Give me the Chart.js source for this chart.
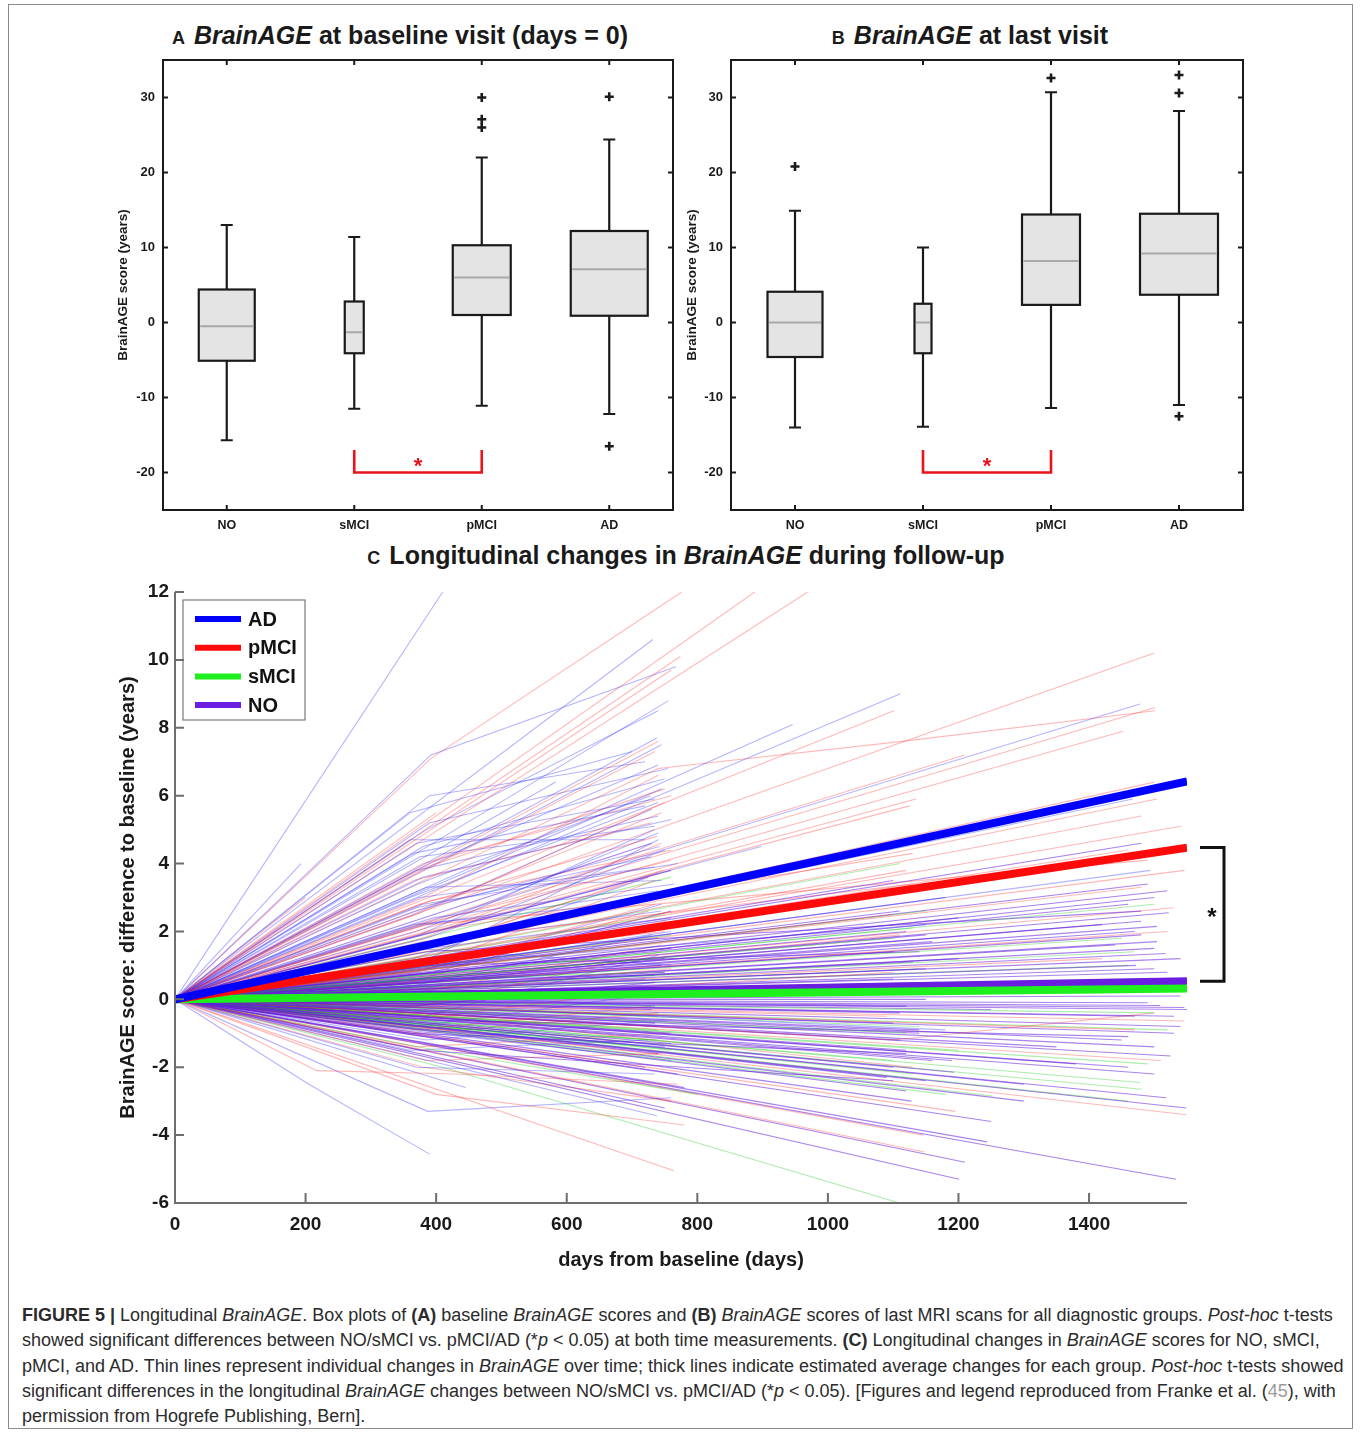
<!DOCTYPE html>
<html>
  <head>
    <title>BrainAGE figure</title>
    <script src="https://cdn.jsdelivr.net/npm/chart.js"></script>
    <style>
      body {
        margin: 0;
        width: 1360px;
        height: 1432px;
        position: relative;
        background: #fff;
        font-family: 'Liberation Sans', Arial, sans-serif;
        overflow: hidden;
      }
      .frame {
        position: absolute;
        left: 8px;
        top: 4px;
        width: 1343px;
        height: 1423px;
        border: 1px solid #8c8c8c;
      }
      canvas {
        position: absolute;
      }
      .ptitle {
        position: absolute;
        text-align: center;
        font-weight: bold;
        color: #1a1a1a;
        white-space: nowrap;
        font-size: 25px;
      }
      .ptitle .tag {
        font-size: 18px;
        margin-right: 9px;
      }
      .caption {
        position: absolute;
        left: 22px;
        top: 1303px;
        font-size: 18px;
        line-height: 25.3px;
        color: #2b2b2b;
        white-space: nowrap;
      }
    </style>
  </head>
  <body>
    <div class="frame"></div>

    <div class="ptitle" style="left:140px; top:21px; width:520px;">
      <span class="tag">A</span><i>BrainAGE</i> at baseline visit (days = 0)
    </div>
    <div class="ptitle" style="left:690px; top:21px; width:560px;">
      <span class="tag">B</span><i>BrainAGE</i> at last visit
    </div>
    <div class="ptitle" style="left:286px; top:541px; width:800px;">
      <span class="tag">C</span>Longitudinal changes in <i>BrainAGE</i> during follow-up
    </div>

    <canvas id="chartA" width="577" height="545" style="left:113px; top:0px;"></canvas>
    <canvas id="chartB" width="578" height="545" style="left:682px; top:0px;"></canvas>
    <canvas id="chartC" width="1130" height="702" style="left:113px; top:570px;"></canvas>

    <div class="caption">
      <b>FIGURE 5 |</b> Longitudinal <i>BrainAGE</i>. Box plots of <b>(A)</b> baseline <i>BrainAGE</i> scores and <b>(B)</b> <i>BrainAGE</i> scores of last MRI scans for all diagnostic groups. <i>Post-hoc</i> t-tests<br>
      showed significant differences between NO/sMCI vs. pMCI/AD (*<i>p</i> &lt; 0.05) at both time measurements. <b>(C)</b> Longitudinal changes in <i>BrainAGE</i> scores for NO, sMCI,<br>
      pMCI, and AD. Thin lines represent individual changes in <i>BrainAGE</i> over time; thick lines indicate estimated average changes for each group. <i>Post-hoc</i> t-tests showed<br>
      significant differences in the longitudinal <i>BrainAGE</i> changes between NO/sMCI vs. pMCI/AD (*<i>p</i> &lt; 0.05). [Figures and legend reproduced from Franke et al. (<span style="color:#9a9a9a">45</span>), with<br>
      permission from Hogrefe Publishing, Bern].
    </div>

    <script>
      // ---- box plots (A, B) ----
      const groups = ['NO', 'sMCI', 'pMCI', 'AD'];
      const boxTicks = [-20, -10, 0, 10, 20, 30];

      const baseLow = [-15.7, -11.5, -11.1, -12.2];
      const baseQ1 = [-5.1, -4.1, 1.0, 0.9];
      const baseMed = [-0.5, -1.3, 6.0, 7.1];
      const baseQ3 = [4.4, 2.8, 10.3, 12.2];
      const baseHigh = [13.0, 11.4, 22.0, 24.4];
      const baseOutliers = [[], [], [30.0, 27.1, 26.0], [30.1, -16.5]];

      const lastLow = [-14.0, -13.9, -11.4, -11.0];
      const lastQ1 = [-4.6, -4.1, 2.35, 3.7];
      const lastMed = [0.0, 0.0, 8.2, 9.2];
      const lastQ3 = [4.1, 2.5, 14.4, 14.5];
      const lastHigh = [14.9, 10.0, 30.7, 28.2];
      const lastOutliers = [[20.8], [], [32.6], [33.0, 30.6, -12.5]];

      // significance bracket between sMCI and pMCI
      const bracketGroups = ['sMCI', 'pMCI'];
      const bracketTop = -17;
      const bracketBottom = -20;

      // ---- longitudinal (C) ----
      const dayTicks = [0, 200, 400, 600, 800, 1000, 1200, 1400];
      const changeTicks = [-6, -4, -2, 0, 2, 4, 6, 8, 10, 12];
      const meanDays = [0, 1550];
      const adMean = [0, 6.42];
      const pmciMean = [0, 4.47];
      const smciMean = [0, 0.32];
      const noMean = [0, 0.53];

      // individual trajectories: [day, change, day, change, ...], baseline (0, 0) implied
      const adTraj = [
        [410, 12.0], [392, 7.2, 767, 9.8], [732, 10.6], [756, 8.8], [738, 7.7],
        [583, 6.4], [1111, 9.0], [946, 8.1], [1478, 8.7], [1467, 5.9], [1494, 3.8],
        [390, 4.0, 740, 6.9], [380, 3.2, 745, 6.2], [370, 4.6, 735, 5.9], [365, 2.5, 730, 5.6],
        [380, 3.6, 760, 5.3], [370, 2.0, 740, 4.9], [360, 4.7, 720, 4.7], [385, 1.8, 750, 4.4],
        [375, 3.0, 735, 3.9], [365, 1.2, 725, 3.6], [380, 2.2, 740, 3.2], [370, 0.8, 745, 2.8],
        [390, 1.5, 760, 2.4], [365, 0.4, 730, 1.9], [380, -0.5, 740, 1.3], [375, 0.6, 735, 0.7],
        [370, -0.8, 745, 0.2], [385, -1.2, 750, -0.6], [360, -1.5, 725, -1.2],
        [205, -2.5, 390, -4.56], [445, -2.6], [738, -3.43], [387, -3.3, 760, -2.9],
        [370, -2.0, 735, -2.2], [395, -1.0, 760, -1.8], [360, 5.5, 700, 7.3], [380, 3.8, 745, 7.5],
        [193, 4.0], [385, 5.0, 740, 8.5], [390, 6.0, 720, 7.0], [380, 2.8, 770, 4.0],
        [366, 1.5, 760, 1.0], [375, 4.2, 735, 5.1], [368, 2.6, 742, 4.5], [372, 3.4, 728, 6.0],
        [898, 4.5], [380, 1.0, 1150, 2.2], [390, -0.2, 1180, -0.9],
        [360, 3.0, 740, 5.8], [380, 4.5, 750, 6.5], [370, 2.7, 730, 4.2], [385, 3.3, 745, 3.5],
        [375, 1.9, 735, 5.0], [390, 5.2, 755, 6.8], [365, 2.2, 725, 2.9], [380, 0.9, 760, 2.0],
        [370, 1.6, 745, 2.6], [380, -0.9, 750, -1.4], [390, 0.1, 735, -0.2], [370, 3.8, 740, 5.4],
        [365, 4.3, 720, 5.7], [395, 2.4, 765, 3.4], [380, 1.1, 740, 4.7]
      ];
      const pmciTraj = [
        [392, 7.1, 776, 12.0], [888, 12.0], [969, 12.0], [1500, 10.2], [1501, 8.6], [1452, 7.9],
        [1101, 8.5], [740, 6.8, 1114, 7.6, 1501, 8.5], [1209, 7.2], [1135, 5.9], [1125, 5.7],
        [1504, 5.9], [1480, 5.4], [1541, 5.1], [1546, 3.8], [774, 10.1], [760, 9.7], [740, 7.6],
        [735, 7.3], [380, 3.0, 740, 6.6], [370, 2.5, 750, 5.8], [365, 3.5, 730, 5.2],
        [380, 1.8, 745, 4.6], [375, 2.2, 760, 4.1], [385, 1.0, 735, 3.5], [370, 1.6, 740, 3.0],
        [360, 0.5, 725, 2.6], [380, 1.2, 750, 2.0], [375, -0.2, 745, 1.4], [390, 0.3, 760, 0.9],
        [365, -0.6, 730, 0.3], [380, -1.0, 740, -0.4], [370, -1.4, 755, -1.0], [385, -1.8, 745, -1.6],
        [217, -2.1, 430, -2.2, 770, -2.5], [764, -5.05], [400, -2.8, 780, -3.7], [1148, -4.5],
        [1146, -4.0], [1195, -3.3], [1549, -3.4], [1546, -0.64], [1100, 2.5], [1480, 3.3],
        [1150, 1.5, 1520, 2.0], [1100, -1.2, 1500, -0.4], [390, 2.0, 1130, 4.3], [380, 4.0, 760, 6.0],
        [400, 5.5], [200, 3.0], [380, 0.0, 1100, 0.8], [390, -0.5, 1130, -2.0],
        [375, 2.8, 738, 4.8], [372, 1.4, 748, 3.8], [383, 0.9, 752, 2.3], [1420, 1.2], [1470, -0.9],
        [370, 2.6, 745, 5.5], [385, 3.9, 750, 6.2], [380, 1.5, 740, 3.7], [365, 0.8, 735, 2.8],
        [390, 2.9, 760, 4.4], [375, 0.2, 745, 1.6], [370, -0.9, 730, -0.2], [380, 1.7, 1130, 3.4],
        [390, 0.6, 1110, 1.9], [385, 2.2, 1490, 4.1], [1500, 6.4], [1460, 4.4], [1530, 2.7],
        [1120, 3.8], [1090, -0.5], [380, -2.0, 760, -3.0], [1510, -1.8]
      ];
      const smciTraj = [
        [410, -2.0, 1110, -6.0], [1478, -2.45], [1481, -2.65], [1252, -2.85], [1100, -1.8],
        [1140, -0.8], [1200, 0.5], [1450, 1.8], [1500, 2.8], [1110, 4.0], [750, 2.5], [730, 1.2],
        [740, -0.5], [760, -1.5], [370, -0.8, 740, -1.2], [380, 0.6, 750, 0.8], [1130, -2.2],
        [1200, -1.5], [1520, -0.9], [1480, 0.2], [1100, 1.8], [760, 3.6], [1490, -1.9],
        [400, -1.5, 800, -2.8], [1150, 2.6], [1120, 0.3], [760, 0.1], [1460, 1.0],
        [1490, 0.6], [1500, -0.4], [1120, -1.0], [1140, 0.9], [760, 1.9], [740, -0.9],
        [1470, 1.4], [1180, -2.8], [1460, -3.0], [1130, 2.1]
      ];
      const noTraj = [
        [1522, 2.55], [1504, 2.15], [1504, 1.7], [1517, 1.35], [1472, 1.0], [1546, -0.24],
        [1509, -0.18], [1525, -1.67], [1518, -2.9], [1549, -3.2], [1533, -5.3], [1201, -5.3],
        [1244, -4.2], [1128, -3.0], [1193, -2.15], [1480, 4.6], [1500, 3.0], [1490, 3.4],
        [1460, 2.8], [1480, 1.9], [1520, 0.8], [1500, 0.4], [1470, -0.5], [1540, -0.8],
        [1450, -1.2], [1500, -1.4], [1120, 2.0], [1100, 1.4], [1150, 0.9], [1130, 0.2],
        [1110, -0.4], [1140, -0.9], [1120, -1.5], [1100, -2.0], [1150, -2.4], [1120, -2.7],
        [1180, 3.0], [1100, 3.5], [1200, 2.4], [760, 1.5], [740, 2.2], [750, 0.8], [730, -0.3],
        [760, -1.0], [740, -1.6], [720, -2.0], [780, -2.6], [740, 3.0], [760, 3.8], [730, 4.6],
        [750, -3.2], [760, 0.3], [1540, 0.1], [1200, 1.2], [1250, -0.3], [1480, 2.3],
        [1380, -1.9], [1300, -2.5], [1160, 1.7], [1110, -1.2], [1500, 1.5], [1530, -1.0],
        [745, 1.0], [735, -0.7], [1170, 0.5], [1190, -1.8],
        [1540, 1.2], [1510, 0.6], [1490, -0.1], [1530, -0.5], [1460, -2.0], [1500, -2.2],
        [1470, 2.0], [1520, 3.2], [1440, 1.6], [1550, -0.3], [1150, 0.0], [1130, 1.1],
        [1100, 0.6], [1120, -0.2], [1140, -1.0], [1160, -1.8], [1090, -2.3], [1110, 2.6],
        [1150, 1.9], [1100, -0.7], [380, 0.5, 750, 1.2], [370, -0.4, 740, -0.8],
        [390, 1.0, 1140, 1.4], [360, -1.0, 1120, -1.6], [380, 0.2, 1500, 0.9], [370, -0.6, 1460, -1.1],
        [385, 1.4, 1480, 2.6], [375, -1.5, 1100, -2.4], [395, 0.8, 760, 2.6], [365, -0.2, 735, 0.5],
        [740, 1.8], [760, -1.3], [720, 0.6], [770, -2.2], [1250, -3.6], [1210, -4.8],
        [1300, -3.0], [1350, -1.4], [1400, 0.4], [1420, 2.2]
      ];

      const legendNames = ['AD', 'pMCI', 'sMCI', 'NO'];
      const groupColors = { AD: '#0000ff', pMCI: '#ff0a0a', sMCI: '#1ef01e', NO: '#6a1ee0' };
      const thinColors = {
        AD: 'rgba(40, 40, 255, 0.35)',
        pMCI: 'rgba(255, 40, 40, 0.33)',
        sMCI: 'rgba(20, 200, 20, 0.35)',
        NO: 'rgba(100, 30, 220, 0.55)',
      };

      const FONT = "'Liberation Sans', Arial, sans-serif";

      // ---------- box plot charts ----------
      const boxPlugin = {
        id: 'boxes',
        beforeDatasetsDraw(chart, args, opts) {
          const { ctx } = chart;
          const x = chart.scales.x;
          const y = chart.scales.y;
          ctx.save();
          ctx.lineWidth = 2.2;
          ctx.strokeStyle = '#1a1a1a';
          opts.low.forEach((lo, i) => {
            const cx = x.getPixelForValue(i);
            const hw = opts.widths[i] / 2;
            const yq1 = y.getPixelForValue(opts.q1[i]);
            const yq3 = y.getPixelForValue(opts.q3[i]);
            const yhi = y.getPixelForValue(opts.high[i]);
            const ylo = y.getPixelForValue(lo);
            // whiskers
            ctx.beginPath();
            ctx.moveTo(cx, yhi);
            ctx.lineTo(cx, yq3);
            ctx.moveTo(cx, yq1);
            ctx.lineTo(cx, ylo);
            ctx.moveTo(cx - 6, yhi);
            ctx.lineTo(cx + 6, yhi);
            ctx.moveTo(cx - 6, ylo);
            ctx.lineTo(cx + 6, ylo);
            ctx.stroke();
            // box
            ctx.fillStyle = '#e4e4e4';
            ctx.fillRect(cx - hw, yq3, hw * 2, yq1 - yq3);
            ctx.strokeRect(cx - hw, yq3, hw * 2, yq1 - yq3);
            // median
            ctx.save();
            ctx.strokeStyle = '#a8a8a8';
            ctx.lineWidth = 2;
            const ym = y.getPixelForValue(opts.med[i]);
            ctx.beginPath();
            ctx.moveTo(cx - hw + 1.5, ym);
            ctx.lineTo(cx + hw - 1.5, ym);
            ctx.stroke();
            ctx.restore();
          });
          // red significance bracket
          const xa = x.getPixelForValue(groups.indexOf(bracketGroups[0]));
          const xb = x.getPixelForValue(groups.indexOf(bracketGroups[1]));
          const yt = y.getPixelForValue(bracketTop);
          const yb = y.getPixelForValue(bracketBottom);
          ctx.strokeStyle = '#e8141c';
          ctx.lineWidth = 2.6;
          ctx.beginPath();
          ctx.moveTo(xa, yt);
          ctx.lineTo(xa, yb);
          ctx.lineTo(xb, yb);
          ctx.lineTo(xb, yt);
          ctx.stroke();
          ctx.fillStyle = '#e8141c';
          ctx.font = 'bold 22px ' + FONT;
          ctx.textAlign = 'center';
          ctx.textBaseline = 'middle';
          ctx.fillText('*', (xa + xb) / 2, y.getPixelForValue((bracketTop + bracketBottom) / 2) + 6);
          ctx.restore();
        },
        afterDraw(chart) {
          const { ctx, chartArea: a } = chart;
          const x = chart.scales.x;
          const y = chart.scales.y;
          ctx.save();
          ctx.strokeStyle = '#1a1a1a';
          ctx.lineWidth = 2;
          ctx.strokeRect(a.left, a.top, a.right - a.left, a.bottom - a.top);
          ctx.beginPath();
          boxTicks.forEach((v) => {
            const py = y.getPixelForValue(v);
            ctx.moveTo(a.left, py);
            ctx.lineTo(a.left + 5, py);
            ctx.moveTo(a.right, py);
            ctx.lineTo(a.right - 5, py);
          });
          groups.forEach((g, i) => {
            const px = x.getPixelForValue(i);
            ctx.moveTo(px, a.bottom);
            ctx.lineTo(px, a.bottom - 5);
            ctx.moveTo(px, a.top);
            ctx.lineTo(px, a.top + 5);
          });
          ctx.stroke();
          ctx.restore();
        },
      };

      function outlierPoints(list) {
        const pts = [];
        list.forEach((vals, i) => vals.forEach((v) => pts.push({ x: groups[i], y: v })));
        return pts;
      }

      function makeBoxChart(id, stats, widths, yWidth) {
        return new Chart(document.getElementById(id), {
          type: 'scatter',
          data: {
            labels: groups,
            datasets: [
              {
                data: outlierPoints(stats.outliers),
                pointStyle: 'cross',
                radius: 4.5,
                borderWidth: 2.6,
                borderColor: '#1a1a1a',
              },
            ],
          },
          plugins: [boxPlugin],
          options: {
            responsive: false,
            animation: false,
            layout: { padding: { top: 60, right: 17, bottom: 0, left: 0 } },
            plugins: {
              legend: { display: false },
              tooltip: { enabled: false },
              boxes: { low: stats.low, q1: stats.q1, med: stats.med, q3: stats.q3, high: stats.high, widths: widths },
            },
            scales: {
              x: {
                type: 'category',
                labels: groups,
                offset: true,
                grid: { display: false, drawTicks: false },
                border: { display: false },
                ticks: { color: '#1a1a1a', padding: 8, font: { family: FONT, size: 12.5, weight: 'bold' } },
                afterFit: (s) => { s.height = 35; },
              },
              y: {
                min: -25,
                max: 35,
                grid: { display: false, drawTicks: false },
                border: { display: false },
                afterBuildTicks: (s) => { s.ticks = boxTicks.map((v) => ({ value: v })); },
                ticks: { color: '#1a1a1a', padding: 8, font: { family: FONT, size: 13, weight: 'bold' } },
                title: {
                  display: true,
                  text: 'BrainAGE score (years)',
                  color: '#1a1a1a',
                  padding: { top: 2, bottom: 0 },
                  font: { family: FONT, size: 13.5, weight: 'bold' },
                },
                afterFit: (s) => { s.width = yWidth; },
              },
            },
          },
        });
      }

      makeBoxChart('chartA',
        { low: baseLow, q1: baseQ1, med: baseMed, q3: baseQ3, high: baseHigh, outliers: baseOutliers },
        [56, 19, 58, 77], 50);
      makeBoxChart('chartB',
        { low: lastLow, q1: lastQ1, med: lastMed, q3: lastQ3, high: lastHigh, outliers: lastOutliers },
        [55, 17, 58, 78], 49);

      // ---------- longitudinal chart ----------
      function toPoints(flat) {
        const pts = [{ x: 0, y: 0 }];
        for (let i = 0; i < flat.length; i += 2) pts.push({ x: flat[i], y: flat[i + 1] });
        return pts;
      }

      const thinSets = [];
      const groupTraj = [['NO', noTraj], ['sMCI', smciTraj], ['pMCI', pmciTraj], ['AD', adTraj]];
      groupTraj.forEach(([g, list]) => {
        list.forEach((t) => {
          thinSets.push({
            data: toPoints(t),
            borderColor: thinColors[g],
            borderWidth: 1.1,
            pointRadius: 0,
            order: 10,
          });
        });
      });
      // interleave so colours mix like the original
      thinSets.sort((a, b) => a.data[a.data.length - 1].x % 7 - b.data[b.data.length - 1].x % 7);

      function meanSet(g, vals, order) {
        return {
          data: meanDays.map((d, i) => ({ x: d, y: vals[i] })),
          borderColor: groupColors[g],
          borderWidth: 8,
          pointRadius: 0,
          order: order,
        };
      }

      const legendPlugin = {
        id: 'boxLegend',
        afterDatasetsDraw(chart) {
          const { ctx, chartArea: a } = chart;
          const left = a.left + 8;
          const top = a.top + 8;
          ctx.save();
          ctx.fillStyle = '#fff';
          ctx.fillRect(left, top, 122, 120);
          ctx.strokeStyle = '#7a7a7a';
          ctx.lineWidth = 1.2;
          ctx.strokeRect(left, top, 122, 120);
          ctx.font = 'bold 20px ' + FONT;
          ctx.textBaseline = 'middle';
          legendNames.forEach((n, i) => {
            const yy = top + 19 + i * 28.7;
            ctx.strokeStyle = groupColors[n];
            ctx.lineWidth = 6;
            ctx.beginPath();
            ctx.moveTo(left + 12, yy);
            ctx.lineTo(left + 58, yy);
            ctx.stroke();
            ctx.fillStyle = '#111';
            ctx.fillText(n, left + 65, yy + 1);
          });
          ctx.restore();
        },
        afterDraw(chart) {
          const { ctx, chartArea: a } = chart;
          const x = chart.scales.x;
          const y = chart.scales.y;
          ctx.save();
          // axes
          ctx.strokeStyle = '#6e6e6e';
          ctx.lineWidth = 2;
          ctx.beginPath();
          ctx.moveTo(a.left, a.top);
          ctx.lineTo(a.left, a.bottom);
          ctx.lineTo(a.right, a.bottom);
          changeTicks.forEach((v) => {
            const py = y.getPixelForValue(v);
            ctx.moveTo(a.left, py);
            ctx.lineTo(a.left + 9, py);
          });
          dayTicks.forEach((v) => {
            const px = x.getPixelForValue(v);
            ctx.moveTo(px, a.bottom);
            ctx.lineTo(px, a.bottom - 10);
          });
          ctx.stroke();
          // significance bracket between pMCI/AD and NO/sMCI means
          const bx = a.right + 13;
          const y1 = y.getPixelForValue(pmciMean[1]);
          const y2 = y.getPixelForValue(noMean[1]);
          ctx.strokeStyle = '#111';
          ctx.lineWidth = 3;
          ctx.beginPath();
          ctx.moveTo(bx, y1);
          ctx.lineTo(bx + 24, y1);
          ctx.lineTo(bx + 24, y2);
          ctx.lineTo(bx, y2);
          ctx.stroke();
          ctx.fillStyle = '#111';
          ctx.font = 'bold 24px ' + FONT;
          ctx.textAlign = 'center';
          ctx.textBaseline = 'middle';
          ctx.fillText('*', bx + 12, (y1 + y2) / 2 + 4);
          ctx.restore();
        },
      };

      new Chart(document.getElementById('chartC'), {
        type: 'line',
        data: {
          datasets: thinSets.concat([
            meanSet('NO', noMean, 3),
            meanSet('sMCI', smciMean, 2),
            meanSet('pMCI', pmciMean, 1),
            meanSet('AD', adMean, 0),
          ]),
        },
        plugins: [legendPlugin],
        options: {
          responsive: false,
          animation: false,
          layout: { padding: { top: 22, right: 56, bottom: 0, left: 0 } },
          elements: { line: { tension: 0 } },
          plugins: { legend: { display: false }, tooltip: { enabled: false } },
          scales: {
            x: {
              type: 'linear',
              min: 0,
              max: 1550,
              grid: { display: false, drawTicks: false },
              border: { display: false },
              afterBuildTicks: (s) => { s.ticks = dayTicks.map((v) => ({ value: v })); },
              ticks: {
                color: '#1a1a1a',
                padding: 10,
                font: { family: FONT, size: 19, weight: 'bold' },
                callback: (v) => String(v),
              },
              title: {
                display: true,
                text: 'days from baseline (days)',
                color: '#1a1a1a',
                padding: { top: 1, bottom: 0 },
                font: { family: FONT, size: 20, weight: 'bold' },
              },
              afterFit: (s) => { s.height = 69; },
            },
            y: {
              min: -6,
              max: 12,
              grid: { display: false, drawTicks: false },
              border: { display: false },
              afterBuildTicks: (s) => { s.ticks = changeTicks.map((v) => ({ value: v })); },
              ticks: { color: '#1a1a1a', padding: 6, font: { family: FONT, size: 19, weight: 'bold' } },
              title: {
                display: true,
                text: 'BrainAGE score: difference to baseline (years)',
                color: '#1a1a1a',
                padding: { top: 3, bottom: 0 },
                font: { family: FONT, size: 20, weight: 'bold' },
              },
              afterFit: (s) => { s.width = 62; },
            },
          },
        },
      });
    </script>
  </body>
</html>
